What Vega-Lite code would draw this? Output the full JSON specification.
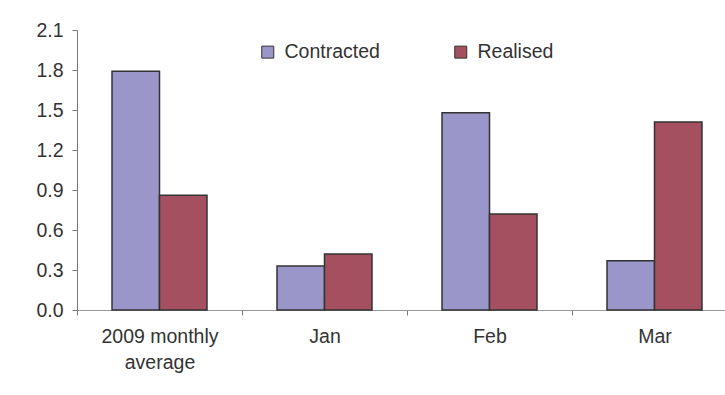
{
  "$schema": "https://vega.github.io/schema/vega-lite/v6.json",
  "width": 660,
  "height": 280,
  "autosize": {"type": "none"},
  "padding": {"left": 77, "top": 30, "right": -12, "bottom": 85},
  "background": "white",
  "config": {
    "font": "Liberation Sans",
    "view": {"stroke": null},
    "axis": {"grid": false, "title": null}
  },
  "data": {
    "values": [
      {"period": "2009 monthly average", "series": "Contracted", "value": 1.79},
      {"period": "2009 monthly average", "series": "Realised", "value": 0.86},
      {"period": "Jan", "series": "Contracted", "value": 0.33},
      {"period": "Jan", "series": "Realised", "value": 0.42},
      {"period": "Feb", "series": "Contracted", "value": 1.48},
      {"period": "Feb", "series": "Realised", "value": 0.72},
      {"period": "Mar", "series": "Contracted", "value": 0.37},
      {"period": "Mar", "series": "Realised", "value": 1.41}
    ]
  },
  "mark": {"type": "bar", "stroke": "#333333", "strokeWidth": 1.5},
  "encoding": {
    "x": {
      "field": "period",
      "type": "nominal",
      "sort": ["2009 monthly average", "Jan", "Feb", "Mar"],
      "scale": {"paddingInner": 0, "paddingOuter": 0},
      "axis": {
        "labelAngle": 0,
        "tickBand": "extent",
        "tickSize": 5,
        "tickColor": "#777777",
        "domainColor": "#999999",
        "labelFontSize": 19.5,
        "labelColor": "#333333",
        "labelPadding": 12,
        "labelLineHeight": 26,
        "labelExpr": "datum.value == '2009 monthly average' ? ['2009 monthly', 'average'] : datum.value"
      }
    },
    "xOffset": {
      "field": "series",
      "sort": ["Contracted", "Realised"],
      "scale": {"paddingInner": 0, "paddingOuter": 0.737}
    },
    "y": {
      "field": "value",
      "type": "quantitative",
      "scale": {"domain": [0, 2.1]},
      "axis": {
        "values": [0, 0.3, 0.6, 0.9, 1.2, 1.5, 1.8, 2.1],
        "format": ".1f",
        "tickSize": 5,
        "tickColor": "#777777",
        "domainColor": "#777777",
        "labelFontSize": 19.5,
        "labelColor": "#333333",
        "labelPadding": 9
      }
    },
    "color": {
      "field": "series",
      "type": "nominal",
      "scale": {"domain": ["Contracted", "Realised"], "range": ["#9b96c9", "#a55060"]},
      "legend": {
        "title": null,
        "orient": "none",
        "legendX": 181,
        "legendY": 12,
        "direction": "horizontal",
        "symbolType": "square",
        "symbolSize": 144,
        "symbolStrokeColor": "#333333",
        "symbolStrokeWidth": 1,
        "labelFontSize": 19.5,
        "labelColor": "#333333",
        "labelOffset": 7,
        "columnPadding": 71,
        "padding": 0
      }
    }
  }
}
